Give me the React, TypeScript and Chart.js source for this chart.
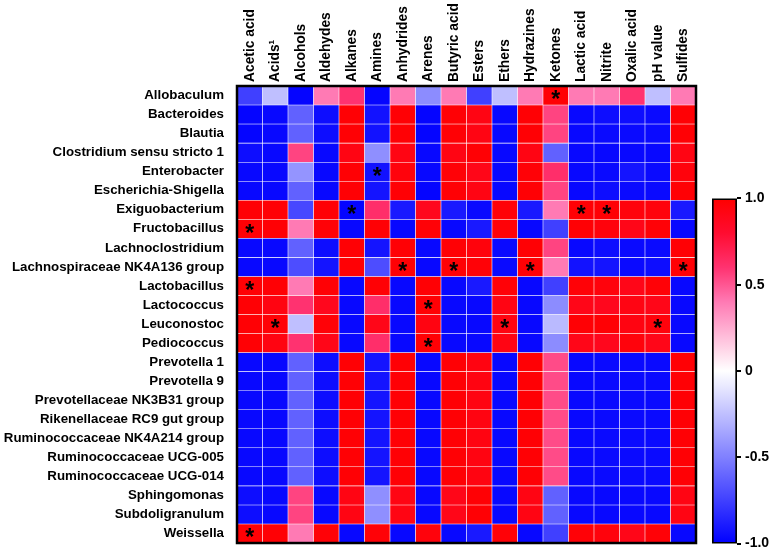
import React, { useEffect, useRef } from "react";
import { Chart, registerables } from "chart.js";

Chart.register(...registerables);

const colLabels = [
  "Acetic acid", "Acids¹", "Alcohols", "Aldehydes", "Alkanes", "Amines",
  "Anhydrides", "Arenes", "Butyric acid", "Esters", "Ethers", "Hydrazines",
  "Ketones", "Lactic acid", "Nitrite", "Oxalic acid", "pH value", "Sulfides",
];

const rowLabels = [
  "Allobaculum", "Bacteroides", "Blautia", "Clostridium sensu stricto 1",
  "Enterobacter", "Escherichia-Shigella", "Exiguobacterium", "Fructobacillus",
  "Lachnoclostridium", "Lachnospiraceae NK4A136 group", "Lactobacillus",
  "Lactococcus", "Leuconostoc", "Pediococcus", "Prevotella 1", "Prevotella 9",
  "Prevotellaceae NK3B31 group", "Rikenellaceae RC9 gut group",
  "Ruminococcaceae NK4A214 group", "Ruminococcaceae UCG-005",
  "Ruminococcaceae UCG-014", "Sphingomonas", "Subdoligranulum", "Weissella",
];

// correlation values, one row per genus (columns follow colLabels)
const allobaculum = [-0.75, -0.25, -0.98, 0.4, 0.6, -0.98, 0.4, -0.45, 0.4, -0.75, -0.25, 0.4, 0.98, 0.4, 0.4, 0.6, -0.25, 0.4];
const bacteroides = [-0.98, -0.97, -0.62, -0.95, 0.98, -0.93, 0.98, -0.98, 0.98, 0.92, -0.97, 0.98, 0.55, -0.97, -0.95, -0.95, -0.96, 0.98];
const blautia = [-0.98, -0.97, -0.62, -0.95, 0.98, -0.93, 0.98, -0.98, 0.98, 0.92, -0.97, 0.98, 0.55, -0.97, -0.96, -0.96, -0.96, 0.98];
const clostridium = [-0.95, -0.97, 0.55, -0.97, 0.92, -0.44, 0.92, -0.97, 0.92, 0.98, -0.97, 0.92, -0.62, -0.97, -0.97, -0.97, -0.97, 0.92];
const enterobacter = [-0.97, -0.97, -0.42, -0.97, 0.98, -0.93, 0.95, -0.97, 0.97, 0.9, -0.97, 0.97, 0.62, -0.97, -0.96, -0.92, -0.96, 0.95];
const escherichia = [-0.97, -0.97, -0.62, -0.97, 0.98, -0.92, 0.98, -0.98, 0.98, 0.92, -0.97, 0.98, 0.55, -0.97, -0.95, -0.96, -0.96, 0.98];
const exiguobacterium = [0.98, 0.98, -0.72, 0.98, -0.98, 0.62, -0.9, 0.88, -0.9, -0.96, 0.97, -0.9, 0.4, 0.98, 0.98, 0.95, 0.95, -0.9];
const fructobacillus = [0.98, 0.98, 0.4, 0.97, -0.97, 0.98, -0.97, 0.97, -0.97, -0.9, 0.97, -0.97, -0.75, 0.98, 0.95, 0.9, 0.97, -0.97];
const lachnoclostridium = [-0.97, -0.97, -0.62, -0.95, 0.98, -0.92, 0.98, -0.97, 0.98, 0.95, -0.96, 0.98, 0.55, -0.97, -0.95, -0.96, -0.96, 0.98];
const lachnospiraceae = [-0.97, -0.97, -0.7, -0.92, 0.98, -0.7, 0.98, -0.97, 0.98, 0.97, -0.96, 0.98, 0.4, -0.93, -0.92, -0.96, -0.95, 0.98];
const lactobacillus = [0.98, 0.98, 0.4, 0.98, -0.97, 0.98, -0.97, 0.98, -0.97, -0.9, 0.97, -0.97, -0.75, 0.97, 0.95, 0.9, 0.97, -0.97];
const lactococcus = [0.98, 0.93, 0.6, 0.88, -0.97, 0.62, -0.97, 0.98, -0.97, -0.97, 0.92, -0.97, -0.45, 0.9, 0.88, 0.92, 0.9, -0.97];
const leuconostoc = [0.98, 0.97, -0.25, 0.97, -0.97, 0.9, -0.97, 0.93, -0.97, -0.97, 0.93, -0.97, -0.27, 0.98, 0.98, 0.93, 0.95, -0.97];
const pediococcus = [0.98, 0.93, 0.6, 0.9, -0.97, 0.62, -0.97, 0.98, -0.97, -0.97, 0.92, -0.97, -0.45, 0.9, 0.88, 0.95, 0.9, -0.97];
const prevotella1 = [-0.97, -0.97, -0.62, -0.95, 0.98, -0.92, 0.98, -0.97, 0.98, 0.93, -0.97, 0.98, 0.53, -0.97, -0.96, -0.96, -0.96, 0.98];
const prevotella9 = [-0.97, -0.97, -0.62, -0.95, 0.98, -0.92, 0.98, -0.97, 0.98, 0.93, -0.97, 0.98, 0.53, -0.97, -0.96, -0.96, -0.96, 0.98];
const prevotellaceae = [-0.97, -0.97, -0.62, -0.95, 0.98, -0.92, 0.98, -0.97, 0.98, 0.93, -0.97, 0.98, 0.53, -0.97, -0.96, -0.96, -0.96, 0.98];
const rikenellaceae = [-0.97, -0.97, -0.62, -0.95, 0.98, -0.92, 0.98, -0.97, 0.98, 0.93, -0.97, 0.98, 0.53, -0.97, -0.96, -0.96, -0.96, 0.98];
const rumNK4A214 = [-0.97, -0.97, -0.62, -0.95, 0.98, -0.92, 0.98, -0.97, 0.98, 0.93, -0.97, 0.98, 0.53, -0.97, -0.96, -0.96, -0.96, 0.98];
const rumUCG005 = [-0.97, -0.97, -0.62, -0.95, 0.98, -0.92, 0.98, -0.97, 0.98, 0.93, -0.97, 0.98, 0.53, -0.97, -0.96, -0.96, -0.96, 0.98];
const rumUCG014 = [-0.97, -0.97, -0.62, -0.95, 0.98, -0.92, 0.98, -0.97, 0.98, 0.93, -0.97, 0.98, 0.53, -0.97, -0.96, -0.96, -0.96, 0.98];
const sphingomonas = [-0.95, -0.97, 0.55, -0.97, 0.92, -0.44, 0.92, -0.97, 0.9, 0.98, -0.97, 0.92, -0.62, -0.97, -0.97, -0.97, -0.97, 0.92];
const subdoligranulum = [-0.95, -0.97, 0.55, -0.97, 0.92, -0.44, 0.92, -0.97, 0.9, 0.98, -0.97, 0.92, -0.62, -0.97, -0.97, -0.97, -0.97, 0.92];
const weissella = [0.98, 0.98, 0.4, 0.97, -0.97, 0.97, -0.97, 0.95, -0.97, -0.9, 0.97, -0.97, -0.75, 0.97, 0.95, 0.9, 0.97, -0.97];

const corrRows = [
  allobaculum, bacteroides, blautia, clostridium, enterobacter, escherichia,
  exiguobacterium, fructobacillus, lachnoclostridium, lachnospiraceae,
  lactobacillus, lactococcus, leuconostoc, pediococcus, prevotella1, prevotella9,
  prevotellaceae, rikenellaceae, rumNK4A214, rumUCG005, rumUCG014,
  sphingomonas, subdoligranulum, weissella,
];

// significant cells: [row index, column index]
const significantCells = [
  [0, 12], [4, 5], [6, 4], [6, 13], [6, 14], [7, 0], [9, 6], [9, 8], [9, 11],
  [9, 17], [10, 0], [11, 7], [12, 1], [12, 10], [12, 16], [13, 7], [23, 0],
];

const colorTicks = [1, 0.5, 0, -0.5, -1];

const FONT = "'Liberation Sans', Arial, Helvetica, sans-serif";

const redStops: [number, number[]][] = [
  [0, [255, 255, 255]],
  [0.4, [255, 122, 180]],
  [0.6, [255, 50, 112]],
  [0.8, [255, 12, 48]],
  [1, [255, 0, 0]],
];

function colorFor(v: number): string {
  if (v < 0) {
    const t = Math.min(1, -v);
    const c = Math.round(255 * (1 - t));
    return `rgb(${c},${c},255)`;
  }
  const x = Math.min(1, v);
  for (let i = 1; i < redStops.length; i++) {
    const [v1, c1] = redStops[i];
    const [v0, c0] = redStops[i - 1];
    if (x <= v1) {
      const t = (x - v0) / (v1 - v0);
      const c = c0.map((a, k) => Math.round(a + (c1[k] - a) * t));
      return `rgb(${c[0]},${c[1]},${c[2]})`;
    }
  }
  return "rgb(255,0,0)";
}

const framePlugin = {
  id: "frame",
  afterDraw(chart: any) {
    const { ctx, chartArea } = chart;
    ctx.save();
    ctx.strokeStyle = "#000";
    ctx.lineWidth = 2.5;
    ctx.strokeRect(chartArea.left, chartArea.top, chartArea.right - chartArea.left, chartArea.bottom - chartArea.top);
    ctx.restore();
  },
};

const starPlugin = {
  id: "stars",
  afterDatasetsDraw(chart: any) {
    const { ctx } = chart;
    const xs = chart.scales.x;
    const ys = chart.scales.y;
    ctx.save();
    ctx.fillStyle = "#000";
    ctx.font = `bold 23px ${FONT}`;
    ctx.textAlign = "center";
    ctx.textBaseline = "middle";
    for (const [r, c] of significantCells) {
      const x = xs.getPixelForValue(c);
      const y = ys.getPixelForValue(r + 0.5);
      ctx.fillText("*", x, y + 5.5);
    }
    ctx.restore();
  },
};

export default function App() {
  const mainRef = useRef<HTMLCanvasElement>(null);
  const barRef = useRef<HTMLCanvasElement>(null);

  useEffect(() => {
    const datasets = corrRows.map((vals, r) => ({
      label: rowLabels[r],
      data: vals.map(() => [r, r + 1]),
      backgroundColor: vals.map((v) => colorFor(v)),
      borderColor: "rgba(255,255,255,0.35)",
      borderWidth: 0.6,
      borderSkipped: false,
      barPercentage: 1,
      categoryPercentage: 1,
      grouped: false,
    }));

    const main = new Chart(mainRef.current!, {
      type: "bar",
      data: { labels: colLabels, datasets: datasets as any },
      options: {
        responsive: false,
        animation: false,
        events: [],
        layout: { padding: { left: 0, top: 0, right: 74, bottom: 8 } },
        plugins: { legend: { display: false }, tooltip: { enabled: false } },
        scales: {
          x: {
            position: "top",
            grid: { display: false },
            border: { display: false },
            ticks: {
              autoSkip: false,
              minRotation: 90,
              maxRotation: 90,
              padding: -4,
              labelOffset: 17,
              color: "#000",
              font: { family: FONT, size: 13.8, weight: "bold" },
            },
            afterFit: (s: any) => { s.height = 86; },
          },
          y: {
            type: "linear",
            min: 0,
            max: rowLabels.length,
            reverse: true,
            grid: { display: false },
            border: { display: false },
            afterBuildTicks: (s: any) => {
              s.ticks = rowLabels.map((_, i) => ({ value: i + 0.5 }));
            },
            ticks: {
              autoSkip: false,
              padding: 5,
              color: "#000",
              font: { family: FONT, size: 13.3, weight: "bold" },
              callback: (v: any) => rowLabels[Math.floor(Number(v))],
            },
            afterFit: (s: any) => { s.width = 237; },
          },
        },
      } as any,
      plugins: [starPlugin, framePlugin],
    });

    const bar = new Chart(barRef.current!, {
      type: "bar",
      data: {
        labels: ["scale"],
        datasets: [
          {
            data: [[-1, 1]] as any,
            backgroundColor: (ctx: any) => {
              const chart = ctx.chart;
              if (!chart.chartArea) return "#fff";
              const ys = chart.scales.y;
              const g = chart.ctx.createLinearGradient(0, ys.getPixelForValue(-1), 0, ys.getPixelForValue(1));
              for (let k = 0; k <= 40; k++) {
                g.addColorStop(k / 40, colorFor(-1 + (2 * k) / 40));
              }
              return g;
            },
            borderColor: "#000",
            borderWidth: 2,
            borderSkipped: false,
            barPercentage: 1,
            categoryPercentage: 1,
          },
        ],
      },
      options: {
        responsive: false,
        animation: false,
        events: [],
        layout: { padding: { left: 12, top: 10, right: 0, bottom: 7 } },
        plugins: { legend: { display: false }, tooltip: { enabled: false } },
        scales: {
          x: { display: false },
          y: {
            position: "right",
            min: -1,
            max: 1,
            afterBuildTicks: (s: any) => {
              s.ticks = colorTicks.map((v) => ({ value: v }));
            },
            grid: { drawOnChartArea: false, drawTicks: true, tickLength: 4, color: "#000", lineWidth: 2 },
            border: { display: false },
            ticks: {
              padding: 4,
              color: "#000",
              font: { family: FONT, size: 14, weight: "bold" },
              callback: (v: any) => (Number(v) === 0 ? "0" : Number(v).toFixed(1)),
            },
            afterFit: (s: any) => { s.width = 33; },
          },
        },
      } as any,
    });

    return () => {
      main.destroy();
      bar.destroy();
    };
  }, []);

  return (
    <div style={{ position: "fixed", left: 0, top: 0, width: 770, height: 556, background: "#fff" }}>
      <canvas ref={mainRef} width={770} height={556} style={{ position: "absolute", left: 0, top: 0 }} />
      <canvas ref={barRef} width={70} height={370} style={{ position: "absolute", left: 700, top: 186 }} />
    </div>
  );
}
